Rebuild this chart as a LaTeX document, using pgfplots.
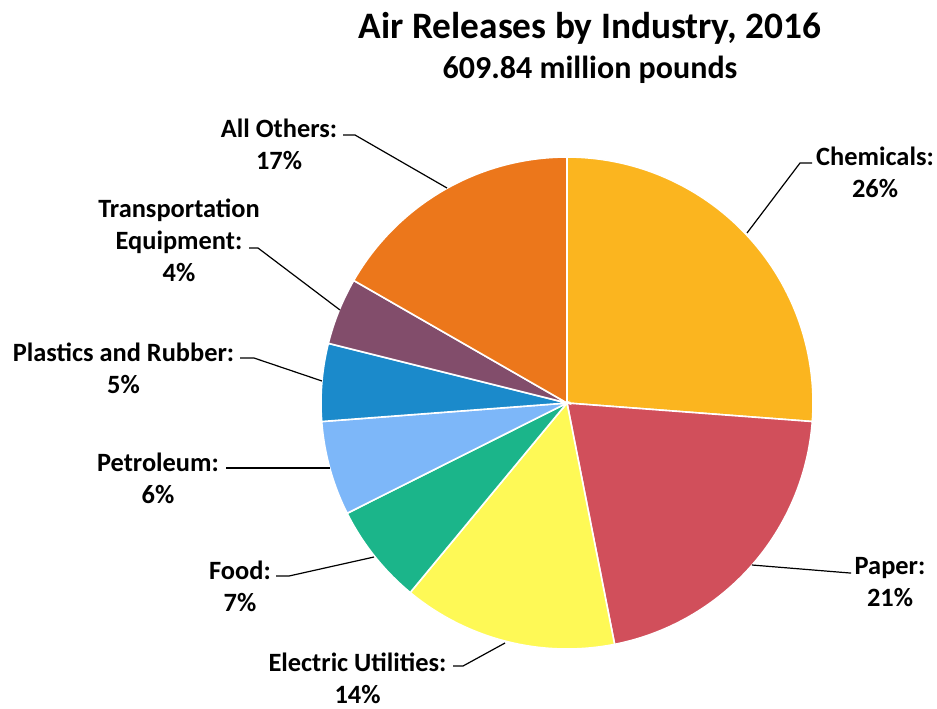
\documentclass[border=0pt]{standalone}
\usepackage{fontspec}
\setmainfont{Carlito}
\usepackage{pgfplots}
\pgfplotsset{compat=1.18}
\definecolor{cChem}{HTML}{FBB51F}
\definecolor{cPaper}{HTML}{D14F5B}
\definecolor{cElec}{HTML}{FEF956}
\definecolor{cFood}{HTML}{1BB58A}
\definecolor{cPetro}{HTML}{7DB7F9}
\definecolor{cPlast}{HTML}{1B8ACB}
\definecolor{cTrans}{HTML}{824D6B}
\definecolor{cOther}{HTML}{EC771B}
% shares (percent), clockwise from 12 o'clock:
% Chemicals 26.2, Paper 20.7, Electric Utilities 14.1, Food 6.6,
% Petroleum 6.2, Plastics and Rubber 5.1, Transportation Equipment 4.4, All Others 16.7
\newcommand{\pieslice}[3]{%
  \addplot[fill=#1, draw=white, line width=1.2pt, domain={90-3.6*(#2)}:{90-3.6*(#3)}, samples=90, variable=\t]
    ({567+246*cos(\t)}, {403-246*sin(\t)}) -- (axis cs:567,403) -- cycle;}
\begin{document}
\begin{tikzpicture}
\begin{axis}[
  scale only axis, width=702.75pt, height=531pt,
  xmin=0, xmax=937, ymin=0, ymax=708, y dir=reverse,
  hide axis, clip=false]
\path (rel axis cs:0,0) rectangle (rel axis cs:1,1);
\pieslice{cChem}{0}{26.2}
\pieslice{cPaper}{26.2}{46.9}
\pieslice{cElec}{46.9}{61.0}
\pieslice{cFood}{61.0}{67.6}
\pieslice{cPetro}{67.6}{73.8}
\pieslice{cPlast}{73.8}{78.9}
\pieslice{cTrans}{78.9}{83.3}
\pieslice{cOther}{83.3}{100}
% leader lines
\addplot[black, line width=0.9pt] coordinates {(747,233) (800,163) (812,163)};
\addplot[black, line width=0.9pt] coordinates {(447,188) (355,135) (343,135)};
\addplot[black, line width=0.9pt] coordinates {(340,310) (258,248) (249,248)};
\addplot[black, line width=0.9pt] coordinates {(322,381) (254,358) (240,358)};
\addplot[black, line width=0.9pt] coordinates {(330,468) (226,468)};
\addplot[black, line width=0.9pt] coordinates {(374,557) (289,576) (276,576)};
\addplot[black, line width=0.9pt] coordinates {(505,643) (463,666) (453,666)};
\addplot[black, line width=0.9pt] coordinates {(752,565) (850,573) (851,573)};
% labels
\tikzset{lab/.style={font=\fontsize{19.8}{24}\selectfont\bfseries, align=center, inner sep=0pt}}
\node[lab] at (axis cs:875,172.5) {Chemicals:\\26\%};
\node[lab] at (axis cs:890,582.5) {Paper:\\21\%};
\node[lab] at (axis cs:357.5,678) {Electric Utilities:\\14\%};
\node[lab] at (axis cs:240,586) {Food:\\7\%};
\node[lab] at (axis cs:158,478) {Petroleum:\\6\%};
\node[lab] at (axis cs:123.5,368.5) {Plastics and Rubber:\\5\%};
\node[lab] at (axis cs:179,240) {Transportation\\Equipment:\\4\%};
\node[lab] at (axis cs:279,144) {All Others:\\17\%};
\node[font=\fontsize{28}{32}\selectfont\bfseries, inner sep=0pt] at (axis cs:590,28) {Air Releases by Industry, 2016};
\node[font=\fontsize{24}{28}\selectfont\bfseries, inner sep=0pt] at (axis cs:590,70) {609.84 million pounds};
\end{axis}
\end{tikzpicture}
\end{document}
